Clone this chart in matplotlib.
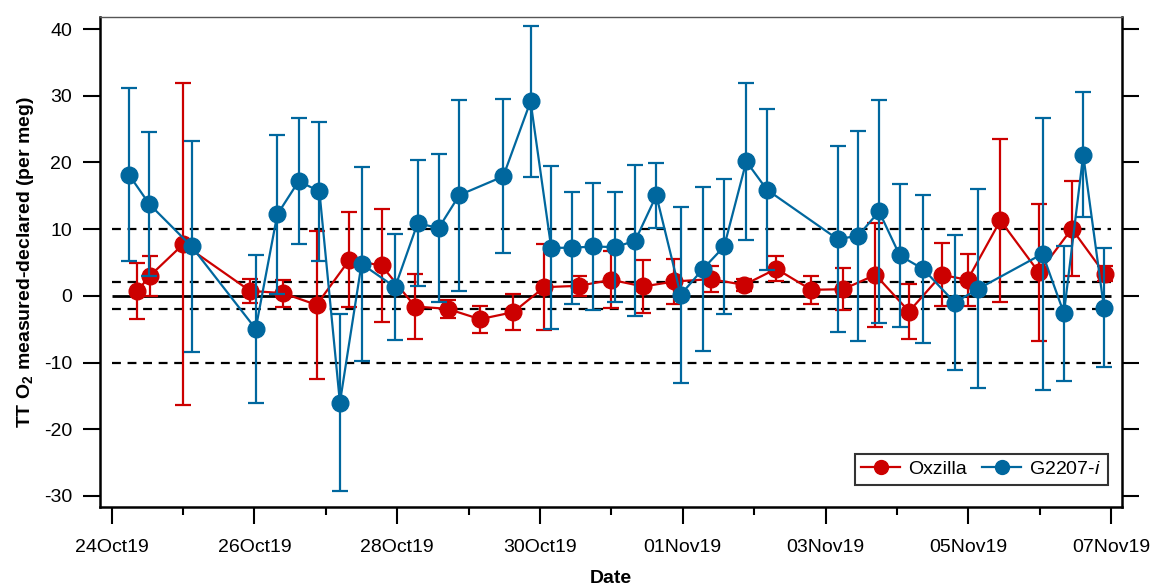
# -*- coding: utf-8 -*-
import numpy as np
import pandas as pd
import matplotlib
matplotlib.use('Agg')
import matplotlib.pyplot as plt
import matplotlib.dates as mdates
from matplotlib.lines import Line2D

plt.rcParams['font.family'] = ['Liberation Sans', 'DejaVu Sans']
plt.rcParams['mathtext.fontset'] = 'custom'
plt.rcParams['mathtext.rm'] = 'Liberation Sans'
plt.rcParams['mathtext.it'] = 'Liberation Sans:italic'
plt.rcParams['mathtext.bf'] = 'Liberation Sans:bold'
#   负号用普通连字符
plt.rcParams['axes.unicode_minus'] = False

start = pd.Timestamp('2019-10-24')

# Oxzilla: days after 24Oct19, value, error
ox_days = [0.359, 0.536, 1.003, 1.937, 2.40, 2.87, 3.33, 3.78, 4.25, 4.705,
           5.158, 5.625, 6.06, 6.546, 7.0, 7.445, 7.88, 8.39, 8.86, 9.31,
           9.80, 10.25, 10.70, 11.17, 11.625, 11.99, 12.45, 12.99, 13.45, 13.91]
ox_vals = [0.75, 3.0, 7.75, 0.75, 0.4, -1.35, 5.4, 4.55, -1.6, -1.95,
           -3.5, -2.45, 1.3, 1.5, 2.4, 1.4, 2.15, 2.5, 1.65, 4.05,
           0.9, 1.0, 3.15, -2.35, 3.15, 2.4, 11.3, 3.5, 10.05, 3.3]
ox_err = [4.15, 3.0, 24.1, 1.8, 2.0, 11.05, 7.1, 8.5, 4.9, 1.3,
          2.0, 2.7, 6.4, 1.5, 4.25, 3.95, 3.3, 1.9, 0.9, 1.85,
          2.05, 3.1, 7.75, 4.1, 4.7, 3.9, 12.2, 10.25, 7.1, 1.1]

# G2207-i
g_days = [0.242, 0.527, 1.12, 2.017, 2.32, 2.62, 2.91, 3.197, 3.50, 3.97,
          4.286, 4.58, 4.87, 5.485, 5.868, 6.157, 6.447, 6.745, 7.05, 7.333,
          7.63, 7.97, 8.28, 8.58, 8.89, 9.18, 10.17, 10.456, 10.75, 11.04,
          11.37, 11.81, 12.14, 13.04, 13.34, 13.61, 13.90]
g_vals = [18.15, 13.75, 7.4, -4.95, 12.2, 17.2, 15.65, -16.0, 4.8, 1.3,
          10.9, 10.15, 15.1, 17.9, 29.15, 7.2, 7.2, 7.4, 7.3, 8.25,
          15.05, 0.15, 4.0, 7.4, 20.15, 15.9, 8.5, 9.0, 12.65, 6.05,
          4.0, -1.0, 1.05, 6.3, -2.6, 21.15, -1.75]
g_err = [13.0, 10.8, 15.85, 11.1, 11.9, 9.5, 10.4, 13.3, 14.5, 7.95,
         9.4, 11.1, 14.3, 11.55, 11.3, 12.2, 8.4, 9.55, 8.2, 11.3,
         4.9, 13.15, 12.25, 10.05, 11.8, 12.1, 13.9, 15.75, 16.75, 10.75,
         11.1, 10.1, 14.9, 20.4, 10.1, 9.4, 8.9]

dashed_levels = [10, 2, -2, -10]
red = '#cc0000'
blue = '#00679e'

fig = plt.figure(figsize=(11.52, 5.88), dpi=100)
ax = fig.add_axes([0.0868, 0.1378, 0.8872, 0.8333])

x0 = start
x1 = start + pd.Timedelta(days=14)
ax.hlines(0, x0, x1, color='black', lw=2, zorder=1)
for lv in dashed_levels:
    ax.hlines(lv, x0, x1, color='black', lw=1.6, linestyles=(0, (4, 3)), zorder=1)

ox_t = start + pd.to_timedelta(ox_days, unit='D')
g_t = start + pd.to_timedelta(g_days, unit='D')

ax.errorbar(ox_t, ox_vals, yerr=ox_err, color=red, marker='o', ms=12, lw=1.6,
            elinewidth=1.6, capsize=6, capthick=1.6, zorder=3)
ax.errorbar(g_t, g_vals, yerr=g_err, color=blue, marker='o', ms=12, lw=1.6,
            elinewidth=1.6, capsize=6, capthick=1.6, zorder=4)

ax.set_xlim(start - pd.Timedelta(days=0.164), start + pd.Timedelta(days=14.154))
ax.set_ylim(-31.65, 41.8)
ax.set_yticks([-30, -20, -10, 0, 10, 20, 30, 40])

ax.xaxis.set_major_locator(mdates.DayLocator(bymonthday=[24, 26, 28, 30, 1, 3, 5, 7]))
ax.xaxis.set_minor_locator(mdates.DayLocator())
ax.xaxis.set_major_formatter(mdates.DateFormatter('%d%b%y'))

ax.tick_params(axis='both', which='major', direction='out', length=12, width=1.5,
               labelsize=14)
ax.tick_params(axis='x', which='minor', direction='out', length=6, width=1.5)
ax.tick_params(axis='y', right=True, which='major', pad=8)
ax.tick_params(axis='x', pad=11)

for sp in ['left', 'bottom', 'right']:
    ax.spines[sp].set_linewidth(1.8)
ax.spines['top'].set_linewidth(1.0)
ax.spines['top'].set_color('#555555')

ax.set_xlabel('Date', fontsize=14, fontweight='bold', labelpad=10)
ax.set_ylabel('TT O$_\\mathbf{2}$ measured-declared (per meg)', fontsize=14,
              fontweight='bold', labelpad=6)

handles = [Line2D([], [], color=red, marker='o', ms=10, lw=1.6),
           Line2D([], [], color=blue, marker='o', ms=10, lw=1.6)]
leg = ax.legend(handles, ['Oxzilla', 'G2207-$\\mathit{i}$'], loc='lower right',
                bbox_to_anchor=(0.986, 0.045), borderaxespad=0,
                ncol=2, fontsize=14, frameon=True, fancybox=False, edgecolor='black',
                handlelength=2.0, columnspacing=0.8, handletextpad=0.4,
                borderpad=0.35)
leg.get_frame().set_linewidth(1.5)

fig.savefig('out.png', dpi=100)
